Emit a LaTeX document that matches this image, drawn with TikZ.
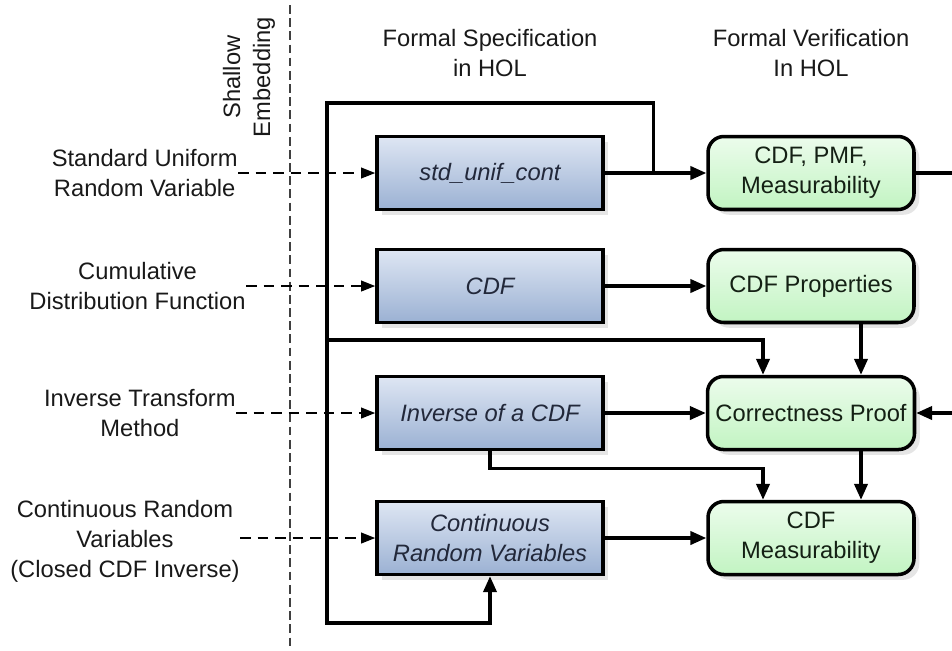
\documentclass[tikz,border=0pt]{standalone}
\usepackage{fontspec}
\setmainfont{Liberation Sans}
\usetikzlibrary{arrows.meta,positioning,calc,shadows}
\definecolor{specTop}{RGB}{222,230,243}
\definecolor{specBot}{RGB}{155,177,211}
\definecolor{specText}{RGB}{34,40,58}
\definecolor{verifTop}{RGB}{236,252,236}
\definecolor{verifBot}{RGB}{194,244,194}
\definecolor{verifText}{RGB}{20,32,20}
\tikzset{
  spec/.style    = {shape=rectangle, draw, line width=2pt, align=center,
                    minimum width=4.52cm, minimum height=1.46cm,
                    top color=specTop, bottom color=specBot,
                    text=specText, font=\itshape,
                    drop shadow={shadow xshift=3pt, shadow yshift=-3pt,
                                 fill=black!20, opacity=.5}},
  verif/.style   = {shape=rectangle, rounded corners=9pt, draw, line width=2pt,
                    align=center, minimum width=4.12cm, minimum height=1.46cm,
                    top color=verifTop, bottom color=verifBot, text=verifText,
                    drop shadow={shadow xshift=3pt, shadow yshift=-3pt,
                                 fill=black!20, opacity=.5}},
  flow/.style    = {draw, line width=1.8pt, -{Triangle[length=9pt,width=7.5pt]}},
  input/.style   = {draw, line width=1.1pt, dash pattern=on 6pt off 4pt,
                    -{Triangle[length=8pt,width=6pt]}},
  divider/.style = {draw, black!75, line width=.6pt, dash pattern=on 5pt off 2.5pt},
  source/.style  = {align=center, anchor=east, inner sep=0pt, text=black!90},
  heading/.style = {align=center, text=black!90},
}

\begin{document}
\fontsize{13.5}{17}\selectfont
\begin{tikzpicture}[x=0.02cm, y=-0.02cm]
    \useasboundingbox (0,0) rectangle (952,650);

    % embedding boundary
    \coordinate (embTop) at (290,5);
    \coordinate (embBot) at (290,650);
    \draw[divider] (embTop) -- (embBot);
    \node [rotate=90, align=center, text=black!90] (shallow) at (249,77) {Shallow\\Embedding};

    % column headings
    \node [heading] (spechead) at (490,53) {Formal Specification\\in HOL};
    \node [heading] (verhead)  at (811,53) {Formal Verification\\In HOL};

    % specification boxes
    \node [spec] (std) at (490,173) {std\_unif\_cont};
    \node [spec] (cdf) at (490,286) {CDF};
    \node [spec] (inv) at (490,413) {Inverse of a CDF};
    \node [spec] (crv) at (490,538) {Continuous\\Random Variables};

    % verification boxes
    \node [verif] (pmf)  at (811,173) {CDF, PMF,\\Measurability};
    \node [verif] (prop) at (811,286) {CDF Properties};
    \node [verif] (corr) at (811,413) {Correctness Proof};
    \node [verif] (meas) at (811,538) {CDF\\Measurability};

    % informal sources
    \node [source] (suv)  at (238,173) {Standard Uniform\\Random Variable};
    \node [source] (cdfn) at (246,286) {Cumulative\\Distribution Function};
    \node [source] (itm)  at (236,413) {Inverse Transform\\Method};
    \node [source] (ccdf) at (240,541) {Continuous Random\\Variables\\(Closed CDF Inverse)};

    \foreach \a/\b in {suv/std, cdfn/cdf, itm/inv, ccdf/crv}
        \draw[input] (\a.east |- \b.west) -- (\b.west);

    \foreach \a/\b in {std/pmf, cdf/prop, inv/corr, crv/meas}
        \draw[flow] (\a) -- (\b);

    \draw[flow] ($(prop.south)+(50,0)$) -- ($(corr.north)+(50,0)$);
    \draw[flow] ($(corr.south)+(50,0)$) -- ($(meas.north)+(50,0)$);
    \draw[flow] (inv.south) -- ++(0,17) -| ($(meas.north)+(-48,0)$);

    % feedback loops
    \coordinate (tap)     at ($(std.east)!0.48!(pmf.west)$);
    \coordinate (loopTop) at (327,103);
    \coordinate (loopBot) at (327,623);
    \coordinate (branch)  at (327,340);
    \coordinate (outer)   at (975,0);
    \draw[flow] (tap) |- (loopTop) -- (loopBot) -| (crv.south);
    \draw[flow] (branch) -| ($(corr.north)+(-48,0)$);
    \draw[flow] (pmf.east) -- (pmf.east -| outer) |- (corr.east);
\end{tikzpicture}
\end{document}
